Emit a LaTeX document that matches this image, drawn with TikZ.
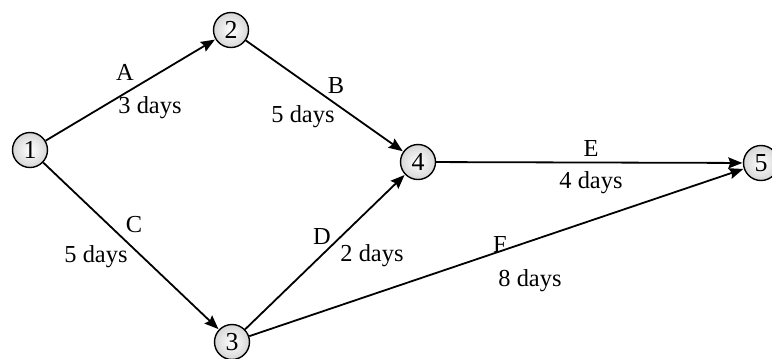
\documentclass[tikz,border=0pt]{standalone}
\usepackage{fontspec}
\setmainfont{Liberation Serif}
\usetikzlibrary{arrows.meta}
\begin{document}
\begin{tikzpicture}[x=1bp,y=-1bp,
  event/.style={circle,draw=black,line width=1.4bp,minimum size=35bp,inner sep=0pt,
    inner color=white,outer color=black!16,font=\fontsize{26}{26}\selectfont},
  act/.style={line width=1.8bp,-{Stealth[length=14bp,width=11bp,inset=2bp]},shorten >=0.5bp},
  lab/.style={font=\fontsize{24.5}{24.5}\selectfont,inner sep=0pt}]
\useasboundingbox (0,0) rectangle (772,358);
\node[event] (n1) at (30,150) {1};
\node[event] (n2) at (231,30) {2};
\node[event] (n3) at (232,342) {3};
\node[event] (n4) at (418,162) {4};
\node[event] (n5) at (761,163) {5};
\draw[act] (n1) -- (n2);
\draw[act] (n2) -- (n4);
\draw[act] (n1) -- (n3);
\draw[act] (n3) -- (n4);
\draw[act] (n4) -- (n5);
\draw[act] (n3) -- (n5);
\node[lab] (la) at (125,72) {A};
\node[lab] (ta) at (150,108) {3 days};
\node[lab] (lb) at (336,86) {B};
\node[lab] (tb) at (303,117) {5 days};
\node[lab] (lc) at (134,225) {C};
\node[lab] (tc) at (96,257) {5 days};
\node[lab] (ld) at (322,237) {D};
\node[lab] (td) at (372,256) {2 days};
\node[lab] (le) at (591,149) {E};
\node[lab] (te) at (591,183) {4 days};
\node[lab] (lf) at (500,245) {F};
\node[lab] (tf) at (530,281) {8 days};
\end{tikzpicture}
\end{document}
